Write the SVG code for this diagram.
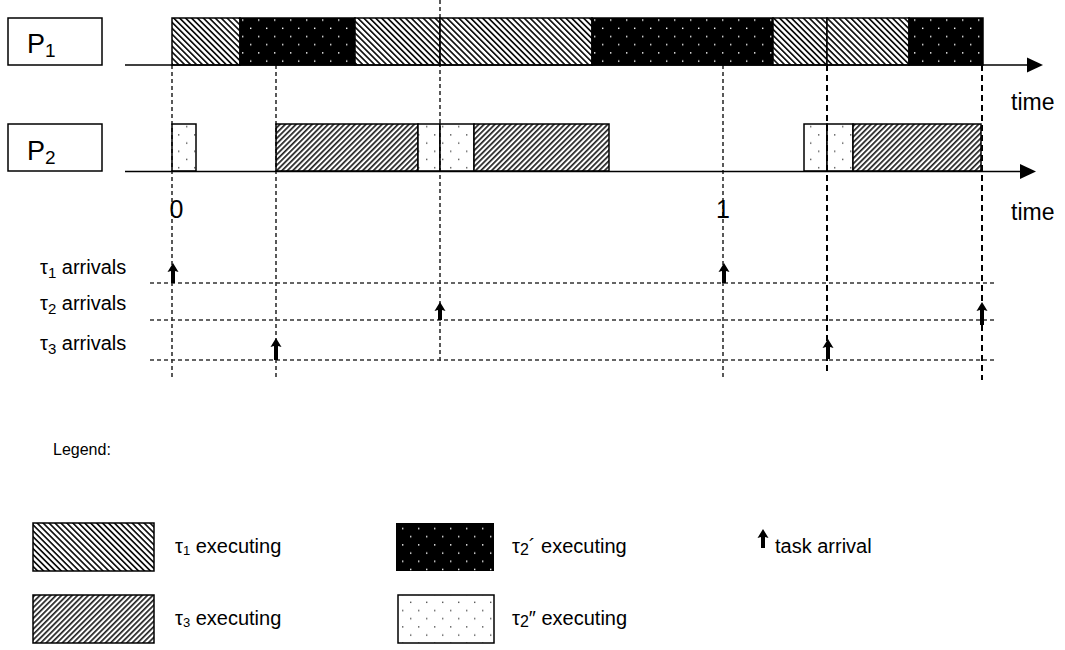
<svg xmlns="http://www.w3.org/2000/svg" width="1065" height="650" viewBox="0 0 1065 650">
<style>
text{font-family:"Liberation Sans",Arial,sans-serif;fill:#000}
.bx{fill:#fff;stroke:#000;stroke-width:1.5}
.bar{stroke:#000;stroke-width:1.5}
.t1{fill:url(#h1)}
.t3{fill:url(#h3)}
.t2a{fill:url(#d1)}
.t2b{fill:url(#d2)}
.ax{stroke:#000;stroke-width:1.5;fill:none}
.dv{stroke:#000;stroke-width:1.3;stroke-dasharray:4 3;fill:none}
.dvt{stroke:#000;stroke-width:2;stroke-dasharray:6 4;fill:none}
.dh{stroke:#333;stroke-width:1.3;stroke-dasharray:4 3;fill:none}
.arr{fill:#000}
</style>
<defs>
<pattern id="h1" width="4.2" height="4.2" patternUnits="userSpaceOnUse" patternTransform="rotate(-45)">
<rect width="4.2" height="4.2" fill="#fff"/><rect width="1.7" height="4.2" fill="#111"/>
</pattern>
<pattern id="h3" width="3.8" height="3.8" patternUnits="userSpaceOnUse" patternTransform="rotate(45)">
<rect width="3.8" height="3.8" fill="#fff"/><rect width="1.7" height="3.8" fill="#222"/>
</pattern>
<pattern id="d1" width="16" height="16.4" patternUnits="userSpaceOnUse">
<rect width="16" height="16.4" fill="#000"/><rect x="2" y="3" width="1.4" height="1.4" fill="#fff"/><rect x="10" y="11.2" width="1.4" height="1.4" fill="#fff"/>
</pattern>
<pattern id="d2" width="16" height="16.4" patternUnits="userSpaceOnUse">
<rect width="16" height="16.4" fill="#fff"/><rect x="2" y="3" width="1.4" height="1.4" fill="#555"/><rect x="10" y="11.2" width="1.4" height="1.4" fill="#555"/>
</pattern>
</defs>

<g id="P1">
<rect class="bx" x="8" y="18" width="94" height="47"/>
<text x="27" y="53" font-size="27">P<tspan font-size="19" dy="4">1</tspan></text>
</g>
<g id="P2">
<rect class="bx" x="8" y="124" width="94" height="47"/>
<text x="27" y="160" font-size="27">P<tspan font-size="19" dy="4">2</tspan></text>
</g>

<g id="p1-schedule">
<rect class="bar t1" x="172" y="18" width="68" height="47"/>
<rect class="bar t2a" x="240" y="18" width="115" height="47"/>
<rect class="bar t1" x="355" y="18" width="85" height="47"/>
<rect class="bar t1" x="440" y="18" width="152" height="47"/>
<rect class="bar t2a" x="592" y="18" width="181" height="47"/>
<rect class="bar t1" x="773" y="18" width="54" height="47"/>
<rect class="bar t1" x="827" y="18" width="82" height="47"/>
<rect class="bar t2a" x="909" y="18" width="74" height="47"/>
</g>
<g id="p2-schedule">
<rect class="bar t2b" x="172" y="124" width="24" height="47"/>
<rect class="bar t3" x="276" y="124" width="142" height="47"/>
<rect class="bar t2b" x="418" y="124" width="22" height="47"/>
<rect class="bar t2b" x="440" y="124" width="34" height="47"/>
<rect class="bar t3" x="474" y="124" width="135" height="47"/>
<rect class="bar t2b" x="804" y="124" width="23" height="47"/>
<rect class="bar t2b" x="827" y="124" width="26" height="47"/>
<rect class="bar t3" x="853" y="124" width="128" height="47"/>
</g>

<g id="connectors">
<line class="ax" x1="125" y1="65" x2="1028" y2="65"/>
<polygon class="arr" points="1043,65 1027,57.5 1027,72.5"/>
<line class="ax" x1="125" y1="171.5" x2="1021" y2="171.5"/>
<polygon class="arr" points="1036,171.5 1020,164 1020,179"/>
<line class="dv" x1="172" y1="65" x2="172" y2="377"/>
<line class="dv" x1="276" y1="65" x2="276" y2="378"/>
<line class="dv" x1="440" y1="0" x2="440" y2="363"/>
<line class="dv" x1="723" y1="65" x2="723" y2="377"/>
<line class="dvt" x1="827" y1="65" x2="827" y2="375"/>
<line class="dvt" x1="982" y1="65" x2="982" y2="380"/>
<line class="dh" x1="150" y1="283" x2="996" y2="283"/>
<line class="dh" x1="150" y1="320" x2="996" y2="320"/>
<line class="dh" x1="150" y1="360" x2="996" y2="360"/>
<path class="arr" d="M173,263 L178.5,272 L175,271 L175,283 L171,283 L171,271 L167.5,272 Z"/>
<path class="arr" d="M724,263 L729.5,272 L726,271 L726,283 L722,283 L722,271 L718.5,272 Z"/>
<path class="arr" d="M440,302 L445.5,311 L442,310 L442,320 L438,320 L438,310 L434.5,311 Z"/>
<path class="arr" d="M982,302 L987.5,311 L984,310 L984,325 L980,325 L980,310 L976.5,311 Z"/>
<path class="arr" d="M276,338 L281.5,347 L278,346 L278,360 L274,360 L274,346 L270.5,347 Z"/>
<path class="arr" d="M828,339 L833.5,348 L830,347 L830,359 L826,359 L826,347 L822.5,348 Z"/>
</g>

<g id="axis-labels">
<text x="1011" y="110" font-size="23">time</text>
<text x="1011" y="220" font-size="23">time</text>
<text x="176.5" y="218" font-size="25" text-anchor="middle">0</text>
<text x="723" y="218" font-size="25" text-anchor="middle">1</text>
</g>

<g id="row-labels">
<text x="40" y="274" font-size="20">τ<tspan font-size="15" dy="4">1</tspan><tspan dy="-4"> arrivals</tspan></text>
<text x="40" y="310" font-size="20">τ<tspan font-size="15" dy="4">2</tspan><tspan dy="-4"> arrivals</tspan></text>
<text x="40" y="350" font-size="20">τ<tspan font-size="15" dy="4">3</tspan><tspan dy="-4"> arrivals</tspan></text>
</g>

<g id="legend">
<text x="53" y="455" font-size="16">Legend:</text>
<rect class="bar t1" x="33" y="523" width="121" height="48"/>
<text x="175" y="553" font-size="20">τ<tspan font-size="13" dy="2">1</tspan><tspan dy="-2"> executing</tspan></text>
<rect class="bar t3" x="33" y="595" width="121" height="48"/>
<text x="175" y="625" font-size="20">τ<tspan font-size="13" dy="2">3</tspan><tspan dy="-2"> executing</tspan></text>
<rect class="t2a" x="396" y="523" width="98" height="48"/>
<text x="512" y="553" font-size="20">τ<tspan font-size="16" dy="2">2</tspan><tspan dy="-2">´ executing</tspan></text>
<rect class="bar t2b" x="398" y="595" width="96" height="48"/>
<text x="512" y="625" font-size="20">τ<tspan font-size="16" dy="2">2</tspan><tspan dy="-2">″ executing</tspan></text>
<path class="arr" d="M763,529 L768.5,538 L765,537 L765,548 L761,548 L761,537 L757.5,538 Z"/>
<text x="775" y="553" font-size="20">task arrival</text>
</g>
</svg>
